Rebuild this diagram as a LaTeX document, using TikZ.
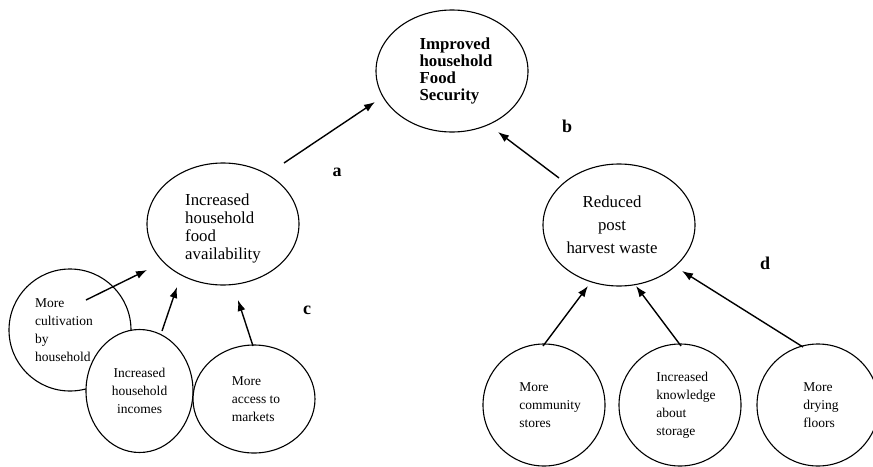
\documentclass[tikz,border=0pt]{standalone}
\usepackage{fontspec}
\setmainfont{Liberation Serif}
\usetikzlibrary{shapes.geometric,arrows.meta,calc}
\begin{document}
\begin{tikzpicture}[x=1pt,y=-1pt,
  ell/.style={ellipse,draw,line width=1.1pt,fill=white,inner sep=0pt,outer sep=0pt},
  mid/.style={ell,minimum width=152pt,minimum height=122pt},
  circ/.style={ell,minimum width=122pt,minimum height=122pt},
  small/.style={font=\fontsize{13.5}{18}\selectfont},
  arr/.style={-{Latex[length=11pt,width=8pt]},line width=1.4pt},
  lab/.style={font=\fontsize{18}{18}\selectfont\bfseries}]
\useasboundingbox (0,0) rectangle (873,466);
% top level
\node[mid,align=left,font=\fontsize{16.8}{17.2}\selectfont\bfseries] (top) at (452,71)
  {\hspace*{8pt}Improved\\\hspace*{8pt}household\\\hspace*{8pt}Food\\\hspace*{8pt}Security};
% middle level
\node[mid,align=left,font=\fontsize{16.8}{18}\selectfont] (lfa) at (223,224)
  {\rule{0pt}{20pt}Increased\\household\\food\\availability};
\node[mid,align=center,font=\fontsize{16.8}{23}\selectfont] (rph) at (619,225)
  {\mbox{Reduced\kern14pt}\\\mbox{post\kern14pt}\\\mbox{harvest waste\kern14pt}};
% bottom left
\node[circ,small,align=left] (cult) at (70,330) {More\\\mbox{cultivation\kern12pt}\\by\\household};
\node[ell,small,align=center,minimum width=107pt,minimum height=123pt] (inc) at (139.5,391) {Increased\\household\\incomes};
\node[ell,small,align=left,minimum width=122pt,minimum height=108pt] (mkt) at (254,399) {\hspace*{4pt}More\\\hspace*{4pt}access to\\\hspace*{4pt}markets};
% bottom right
\node[circ,small,align=left] (com) at (544,405) {\hspace*{12pt}More\\\hspace*{12pt}community\\\hspace*{12pt}stores};
\node[circ,small,align=left] (kno) at (680,405) {\hspace*{12pt}Increased\\\hspace*{12pt}knowledge\\\hspace*{12pt}about\\\hspace*{12pt}storage};
\node[circ,small,align=left] (dry) at (818,405) {\hspace*{6pt}More\\\hspace*{6pt}drying\\\hspace*{6pt}floors};
% arrows
\draw[arr] ($(lfa.center)+(61,-61)$) -- ($(top.center)+(-77,31)$);
\draw[arr] ($(rph.center)+(-60,-47)$) -- ($(top.center)+(46,61)$);
\draw[arr] ($(cult.center)+(16,-30)$) -- ($(lfa.center)+(-76,46)$);
\draw[arr] ($(inc.center)+(22.5,-60)$) -- ($(lfa.center)+(-46,63)$);
\draw[arr] ($(mkt.center)+(-1,-53)$) -- ($(lfa.center)+(15,76)$);
\draw[arr] ($(com.center)+(-1,-59)$) -- ($(rph.center)+(-31,61)$);
\draw[arr] ($(kno.center)+(1,-59)$) -- ($(rph.center)+(17,61)$);
\draw[arr] ($(dry.center)+(-15,-58)$) -- ($(rph.center)+(63,46)$);
% labels
\node[lab] (la) at (337,172) {a};
\node[lab] (lb) at (567,126) {b};
\node[lab] (lc) at (307,310) {c};
\node[lab] (ld) at (765,263) {d};
\end{tikzpicture}
\end{document}
